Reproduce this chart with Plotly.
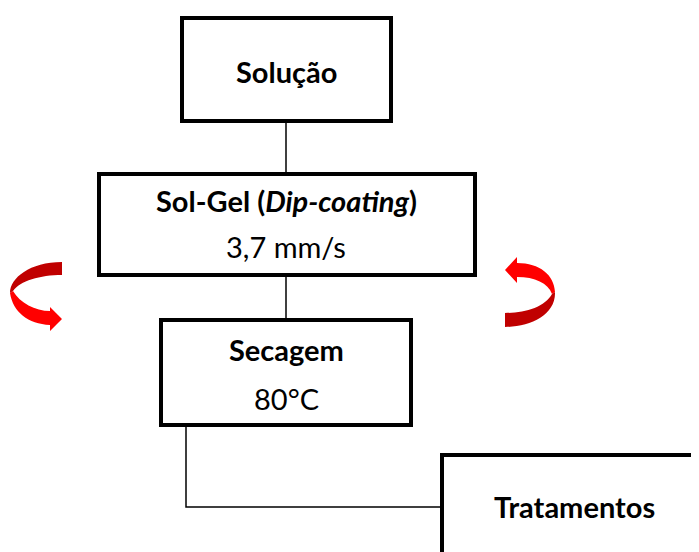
import plotly.graph_objects as go

# Content (text) of the flowchart
step_titles = ["Solução", "Sol-Gel (<i>Dip-coating</i>)", "Secagem", "Tratamentos"]
step_details = ["", "3,7 mm/s", "80°C", ""]

# Layout of the boxes (pixel space: x0, y0, x1, y1)
box_x0 = [182, 99, 161, 442]
box_y0 = [18, 174, 320, 455]
box_x1 = [391, 475, 411, 760]
box_y1 = [121, 275, 425, 600]
title_y = [71, 200, 349, 506]
detail_y = [None, 246, 398, None]
text_x = [286, 286, 286, 574]

W, H = 699, 552
OFF = 8  # default page body margin
FONT = "Lato"
FS = 29

fig = go.Figure()
fig.add_trace(go.Scatter(x=[OFF, W], y=[OFF, H], mode="markers",
                         marker=dict(opacity=0), hoverinfo="skip", showlegend=False))

shapes = []
for i in range(len(step_titles)):
    shapes.append(dict(type="rect", xref="x", yref="y",
                       x0=box_x0[i], y0=box_y0[i], x1=box_x1[i], y1=box_y1[i],
                       line=dict(color="black", width=4), fillcolor="white", layer="above"))

# connectors
conn = dict(color="black", width=1.5)
shapes.append(dict(type="line", xref="x", yref="y", x0=286, y0=123, x1=286, y1=172, line=conn))
shapes.append(dict(type="line", xref="x", yref="y", x0=286, y0=277, x1=286, y1=318, line=conn))
shapes.append(dict(type="path", xref="x", yref="y",
                   path="M 186,427 L 186,507 L 440,507", line=conn))

DARK = "#C00000"
BRIGHT = "#FF0000"
# left curved arrow
shapes.append(dict(type="path", xref="x", yref="y",
                   path="M 62,262 L 62,275 C 40,275 20,281 13,291 L 10,293 C 10,278 30,262 62,262 Z",
                   fillcolor=DARK, line=dict(width=0)))
shapes.append(dict(type="path", xref="x", yref="y",
                   path="M 13,291 C 20,303 35,311 50,311 L 50,307 L 62,319 L 50,331 L 50,325 C 28,324 13,312 10,293 Z",
                   fillcolor=BRIGHT, line=dict(width=0)))
# right curved arrow
shapes.append(dict(type="path", xref="x", yref="y",
                   path="M 517,263 C 540,263 554,275 555,292 L 552,294 C 548,283 535,277 517,277 L 517,283 L 505,270 L 517,257 Z",
                   fillcolor=BRIGHT, line=dict(width=0)))
shapes.append(dict(type="path", xref="x", yref="y",
                   path="M 552,294 L 555,292 C 556,315 530,327 505,327 L 505,313 C 525,313 545,307 552,294 Z",
                   fillcolor=DARK, line=dict(width=0)))

annotations = []
for i in range(len(step_titles)):
    annotations.append(dict(x=text_x[i], y=title_y[i], xref="x", yref="y",
                            text="<b>" + step_titles[i] + "</b>", showarrow=False,
                            font=dict(family=FONT, size=FS, color="black"),
                            xanchor="center", yanchor="middle"))
    if step_details[i]:
        annotations.append(dict(x=text_x[i], y=detail_y[i], xref="x", yref="y",
                                text=step_details[i], showarrow=False,
                                font=dict(family=FONT, size=FS, color="black"),
                                xanchor="center", yanchor="middle"))

fig.update_layout(
    width=W, height=H, margin=dict(l=0, r=0, t=0, b=0),
    paper_bgcolor="white", plot_bgcolor="white",
    xaxis=dict(range=[OFF, W + OFF], visible=False, fixedrange=True),
    yaxis=dict(range=[H + OFF, OFF], visible=False, fixedrange=True),
    shapes=shapes, annotations=annotations, showlegend=False,
)
fig.write_html("out.html")
